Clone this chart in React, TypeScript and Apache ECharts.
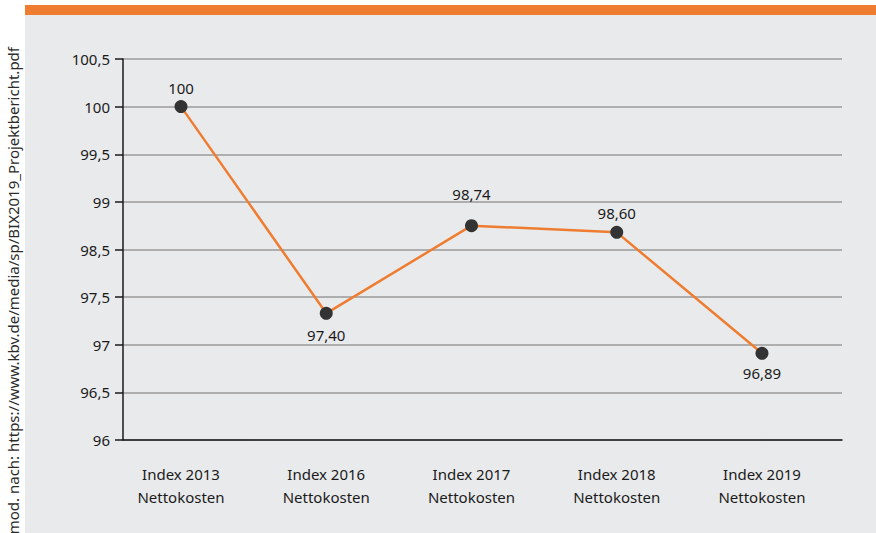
import React, { useEffect, useRef } from "react";
import * as echarts from "echarts";

const categories = [
  "Index 2013\nNettokosten",
  "Index 2016\nNettokosten",
  "Index 2017\nNettokosten",
  "Index 2018\nNettokosten",
  "Index 2019\nNettokosten",
];
// plotted positions
const values = [100, 97.33, 98.75, 98.68, 96.91];
// printed data labels
const valueLabels = ["100", "97,40", "98,74", "98,60", "96,89"];
const labelPositions = ["top", "bottom", "top", "top", "bottom"];
const labelDistances = [5, 8, 18, 5, 6];
// y-axis ticks as printed (note: 98 is skipped in the original)
const tickValues = [96, 96.5, 97, 97.5, 98.5, 99, 99.5, 100, 100.5];
const tickLabels = ["96", "96,5", "97", "97,5", "98,5", "99", "99,5", "100", "100,5"];
const sourceText = "mod. nach: https://www.kbv.de/media/sp/BIX2019_Projektbericht.pdf";

const FONT = "'Noto Sans', 'Open Sans', sans-serif";
const FS = 15;

function toAxis(v: number): number {
  for (let i = 0; i < tickValues.length - 1; i++) {
    const a = tickValues[i];
    const b = tickValues[i + 1];
    if (v >= a && v <= b) return i + (v - a) / (b - a);
  }
  return v < tickValues[0] ? 0 : tickValues.length - 1;
}

export default function App() {
  const ref = useRef<HTMLDivElement>(null);

  useEffect(() => {
    if (!ref.current) return;
    const chart = echarts.init(ref.current, null, { renderer: "svg" });
    const maxIdx = tickValues.length - 1;
    const gridTop = 59;
    const gridHeight = 381;
    chart.setOption({
      animation: false,
      backgroundColor: "#ffffff",
      textStyle: { fontFamily: FONT },
      graphic: [
        {
          type: "rect",
          z: -10,
          shape: { x: 25, y: 15, width: 851, height: 518 },
          style: { fill: "#e9eaec" },
        },
        {
          type: "rect",
          z: -10,
          shape: { x: 25, y: 5, width: 851, height: 10 },
          style: { fill: "#ef7d31" },
        },
        {
          type: "text",
          x: 13,
          y: 47,
          rotation: Math.PI / 2,
          style: {
            text: sourceText,
            fill: "#2b2b2b",
            font: `15px ${FONT}`,
            textAlign: "right",
            textVerticalAlign: "middle",
          },
        },
      ],
      grid: [
        { left: 123, right: 34, top: gridTop, height: gridHeight },
        { left: 181, right: 114, top: gridTop, height: gridHeight },
      ],
      xAxis: [
        {
          type: "category",
          gridIndex: 0,
          data: categories,
          boundaryGap: true,
          axisLine: { lineStyle: { color: "#1a1a1a", width: 1.5 } },
          axisTick: { show: false },
          axisLabel: { show: false },
          splitLine: { show: false },
        },
        {
          type: "category",
          gridIndex: 1,
          data: categories,
          boundaryGap: false,
          axisLine: { show: false },
          axisTick: { show: false },
          axisLabel: {
            color: "#1a1a1a",
            fontSize: FS,
            lineHeight: 23,
            margin: 22,
            fontFamily: FONT,
          },
          splitLine: { show: false },
        },
      ],
      yAxis: [
        {
          type: "value",
          gridIndex: 0,
          min: 0,
          max: maxIdx,
          interval: 1,
          axisLine: { show: true, lineStyle: { color: "#1a1a1a", width: 1.5 } },
          axisTick: { show: true, length: 8, lineStyle: { color: "#1a1a1a", width: 1.5 } },
          axisLabel: {
            color: "#1a1a1a",
            fontSize: FS,
            margin: 13,
            fontFamily: FONT,
            formatter: (v: number) => tickLabels[Math.round(v)] ?? "",
          },
          splitLine: { show: true, lineStyle: { color: "#9a9a9a", width: 1.5 } },
        },
        {
          type: "value",
          gridIndex: 1,
          min: 0,
          max: maxIdx,
          interval: 1,
          show: false,
          splitLine: { show: false },
        },
      ],
      series: [
        {
          type: "line",
          xAxisIndex: 1,
          yAxisIndex: 1,
          data: values.map((v, i) => ({
            value: toAxis(v),
            label: { position: labelPositions[i], distance: labelDistances[i] },
          })),
          lineStyle: { color: "#ef7d31", width: 2.5 },
          itemStyle: { color: "#333333" },
          symbol: "circle",
          symbolSize: 13,
          label: {
            show: true,
            color: "#1a1a1a",
            fontSize: FS,
            fontFamily: FONT,
            formatter: (p: any) => valueLabels[p.dataIndex],
          },
          z: 5,
        },
      ],
    });
    return () => chart.dispose();
  }, []);

  return (
    <div
      ref={ref}
      style={{ position: "fixed", left: 0, top: 0, width: 876, height: 533 }}
    />
  );
}
